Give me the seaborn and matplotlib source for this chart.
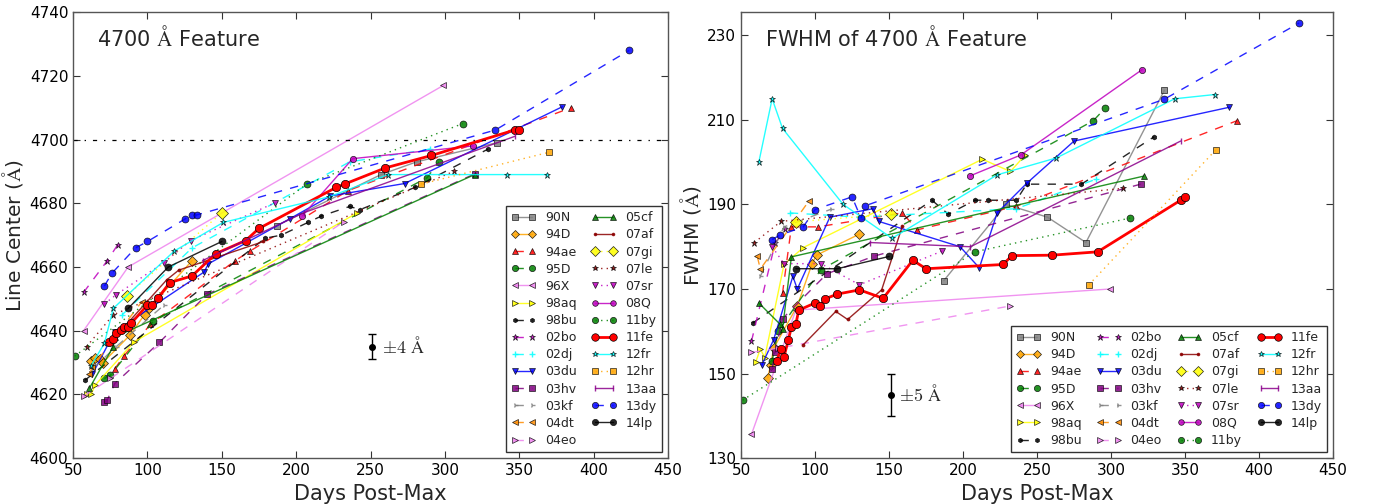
import matplotlib
matplotlib.use("Agg")
import matplotlib.pyplot as plt
import seaborn as sns

SN_NAMES = ["90N", "94D", "94ae", "95D", "96X", "98aq", "98bu", "02bo", "02dj",
            "03du", "03hv", "03kf", "04dt", "04eo", "05cf", "07af", "07gi", "07le",
            "07sr", "08Q", "11by", "11fe", "12fr", "12hr", "13aa", "13dy", "14lp"]

# ---- Line center of the 4700 A feature (left panel) ----
LC_DAYS = {
    "90N": [187, 257, 281, 335],
    "94D": [62, 65, 68, 70, 88, 98, 101, 130],
    "94ae": [78, 84, 102, 159, 169, 235, 385],
    "95D": [71, 75, 104, 288, 296],
    "96X": [57, 87, 299],
    "98aq": [59, 62, 65, 91, 241],
    "98bu": [58, 179, 190, 208, 217, 236, 243, 280, 329],
    "02bo": [57, 73, 80],
    "02dj": [83, 130, 236, 290],
    "03du": [63, 78, 138, 141, 196, 223, 273, 379],
    "03hv": [71, 73, 78, 108, 140, 320],
    "03kf": [63, 79, 111],
    "04dt": [61, 63, 96],
    "04eo": [57, 75, 232],
    "05cf": [61, 77, 78, 320],
    "07af": [84, 113, 121, 178],
    "07gi": [86, 150],
    "07le": [59, 77, 306],
    "07sr": [71, 79, 111, 129, 186],
    "08Q": [204, 238, 319],
    "11by": [51, 207, 312],
    "11fe": [74, 77, 79, 82, 84, 87, 89, 100, 103, 107, 115, 130, 146, 166, 175,
             227, 233, 260, 291, 347, 350],
    "12fr": [62, 71, 77, 118, 151, 222, 262, 342, 369],
    "12hr": [284, 370],
    "13aa": [137, 205, 347],
    "13dy": [71, 76, 92, 100, 125, 130, 133, 334, 424],
    "14lp": [87, 114, 150],
}
LC_VALS = {
    "90N": [4673, 4689, 4693, 4699],
    "94D": [4630.5, 4631.5, 4631, 4630, 4638.5, 4645, 4647, 4662],
    "94ae": [4628, 4632, 4642, 4662, 4665, 4684, 4710],
    "95D": [4625, 4626, 4643, 4688, 4693],
    "96X": [4640, 4660, 4717],
    "98aq": [4620, 4620, 4623, 4636.5, 4677],
    "98bu": [4624.5, 4669, 4670, 4674, 4676, 4679, 4678, 4685, 4697],
    "02bo": [4652, 4662, 4667],
    "02dj": [4645, 4666, 4693, 4697],
    "03du": [4626.4, 4639.7, 4658.4, 4661, 4675.2, 4682.3, 4686.2, 4710.3],
    "03hv": [4617.5, 4618.3, 4623.4, 4636.3, 4651.4, 4689.2],
    "03kf": [4628, 4635, 4648],
    "04dt": [4626.5, 4628.6, 4649],
    "04eo": [4619.4, 4625, 4674.2],
    "05cf": [4622, 4635, 4638, 4689],
    "07af": [4641, 4656, 4659, 4668],
    "07gi": [4651, 4677],
    "07le": [4635, 4645, 4690],
    "07sr": [4648.4, 4651.3, 4661.4, 4668.3, 4680.2],
    "08Q": [4676, 4694, 4698],
    "11by": [4632, 4686, 4705],
    "11fe": [4636.3, 4637.3, 4639.2, 4640.1, 4641.3, 4641.3, 4642.3, 4648.1, 4648.1,
             4650.2, 4655.1, 4657.2, 4664.2, 4668.3, 4672.1, 4685, 4686.1, 4691.1,
             4695, 4703, 4703],
    "12fr": [4629, 4636, 4647, 4665, 4674, 4682, 4689, 4689, 4689],
    "12hr": [4686, 4696],
    "13aa": [4662, 4677, 4701],
    "13dy": [4654, 4658, 4666, 4668, 4675, 4676.3, 4676.3, 4703, 4728],
    "14lp": [4647, 4660, 4668],
}

# ---- FWHM of the 4700 A feature (right panel) ----
FW_DAYS = {
    "90N": [187, 229, 257, 283, 336],
    "94D": [68, 70, 72, 88, 98, 101, 130],
    "94ae": [78, 84, 102, 159, 169, 236, 385],
    "95D": [71, 75, 104, 288, 296],
    "96X": [57, 87, 299],
    "98aq": [60, 63, 66, 79, 92, 213, 232, 242],
    "98bu": [58, 179, 190, 208, 217, 236, 243, 280, 329],
    "02bo": [57, 73, 80],
    "02dj": [83, 130, 236, 290],
    "03du": [64, 72, 85, 88, 110, 139, 143, 198, 211, 223, 243, 275, 380],
    "03hv": [71, 73, 78, 108, 140, 320],
    "03kf": [63, 79, 111],
    "04dt": [61, 63, 96],
    "04eo": [57, 75, 232],
    "05cf": [62, 76, 78, 84, 322],
    "07af": [92, 114, 122, 145, 159],
    "07gi": [87, 151],
    "07le": [59, 77, 308],
    "07sr": [71, 79, 104, 130, 186],
    "08Q": [205, 239, 321],
    "11by": [51, 208, 313],
    "11fe": [74, 77, 79, 82, 84, 87, 89, 100, 103, 107, 115, 130, 146, 166, 175,
             227, 233, 260, 291, 347, 350],
    "12fr": [62, 71, 78, 119, 152, 223, 263, 343, 370],
    "12hr": [285, 371],
    "13aa": [137, 205, 347],
    "13dy": [71, 76, 92, 100, 125, 131, 134, 336, 427],
    "14lp": [87, 115, 150],
}
FW_VALS = {
    "90N": [172, 190, 187, 181, 217],
    "94D": [149, 152, 156, 166, 176, 178, 183],
    "94ae": [169, 184.7, 184.7, 188, 184, 189.6, 209.8],
    "95D": [153, 160, 174.6, 209.8, 212.8],
    "96X": [135.6, 165, 170],
    "98aq": [152.8, 155.8, 153.8, 175.8, 179.8, 200.7, 197.8, 201.7],
    "98bu": [162, 191, 187.7, 191, 191, 191, 194.8, 194.8, 206],
    "02bo": [157.6, 180.8, 184.3],
    "02dj": [188, 187, 189, 196],
    "03du": [152, 158, 173, 170, 187, 189, 186, 180, 175, 188, 195, 205, 213],
    "03hv": [151, 155, 163, 173.6, 177.8, 194.8],
    "03kf": [173, 184.7, 188.9],
    "04dt": [177.7, 174.7, 190.9],
    "04eo": [155, 156, 166],
    "05cf": [166.7, 161.8, 160.6, 177.6, 196.7],
    "07af": [156.8, 164.7, 162.8, 169.8, 184.9],
    "07gi": [185.9, 187.7],
    "07le": [181, 186, 193.8],
    "07sr": [180, 176, 176, 171, 179],
    "08Q": [196.8, 201.7, 221.9],
    "11by": [143.7, 178.8, 186.8],
    "11fe": [153, 155.7, 154, 158, 161, 161.7, 165, 166.7, 165.9, 167.7, 168.8,
             169.8, 167.8, 176.8, 174.8, 175.8, 177.9, 178, 178.8, 191, 191.8],
    "12fr": [200, 215, 208, 190, 182, 197, 201, 215, 216],
    "12hr": [171, 203],
    "13aa": [181, 180, 205],
    "13dy": [181.7, 182.7, 184.7, 188.8, 191.8, 186.8, 189.7, 214.9, 232.9],
    "14lp": [174.8, 174.8, 177.7],
}

# styles: color, marker, linestyle, markersize, linewidth
STYLE = {
    "90N": ("gray", "s", "-", 5, 1.0),
    "94D": ("orange", "D", "-", 5, 1.0),
    "94ae": ("red", "^", "--", 5, 1.0),
    "95D": ("green", "o", "--", 5, 1.0),
    "96X": ("violet", "<", "-", 5, 1.0),
    "98aq": ("yellow", ">", "-", 5, 1.0),
    "98bu": ("black", "h", "--", 3.5, 1.0),
    "02bo": ("m", "*", "--", 5, 1.0),
    "02dj": ("cyan", "+", "--", 5, 1.0),
    "03du": ("blue", "v", "-", 5, 1.0),
    "03hv": ("purple", "s", "--", 5, 1.0),
    "03kf": ("gray", "4", "--", 4, 1.0),
    "04dt": ("darkorange", "<", "--", 5, 1.0),
    "04eo": ("violet", ">", "--", 5, 1.0),
    "05cf": ("green", "^", "-", 5, 1.0),
    "07af": ("darkred", ".", "-", 3.5, 1.0),
    "07gi": ("yellow", "D", ":", 6, 1.0),
    "07le": ("darkred", "*", ":", 4.5, 1.0),
    "07sr": ("m", "v", ":", 5, 1.0),
    "08Q": ("m", "o", "-", 4.5, 1.0),
    "11by": ("green", "o", ":", 5, 1.0),
    "11fe": ("red", "o", "-", 6, 2.0),
    "12fr": ("cyan", "*", "-", 4.5, 1.0),
    "12hr": ("orange", "s", ":", 5, 1.0),
    "13aa": ("darkmagenta", "|", "-", 5, 1.0),
    "13dy": ("blue", "o", "--", 5, 1.0),
    "14lp": ("black", "o", "-", 5, 1.0),
}

sns.set_style("ticks")
plt.rcParams.update({
    "font.family": ["DejaVu Sans"],
    "mathtext.fontset": "cm",
    "xtick.direction": "in", "ytick.direction": "in",
    "xtick.top": True, "ytick.right": True,
    "xtick.major.size": 5, "ytick.major.size": 5,
    "xtick.labelsize": 11, "ytick.labelsize": 11,
    "xtick.color": "#333333", "ytick.color": "#333333",
    "xtick.labelcolor": "black", "ytick.labelcolor": "black",
    "axes.edgecolor": "#555555", "axes.linewidth": 1.0,
    "lines.dashed_pattern": [6, 6], "lines.dotted_pattern": [1, 3],
    "lines.dashdot_pattern": [3, 5, 1, 5], "lines.scale_dashes": False,
})

AA = r"$\mathrm{\AA}$"

fig = plt.figure(figsize=(13.8, 5.04), dpi=100)
ax1 = fig.add_axes([0.053, 0.091, 0.431, 0.885])
ax2 = fig.add_axes([0.537, 0.091, 0.429, 0.885])


def draw(ax, days, vals):
    for name in SN_NAMES:
        color, marker, ls, ms, lw = STYLE[name]
        mec = color if marker in ("+", "|", "4", ".") else "k"
        sns.lineplot(x=days[name], y=vals[name], ax=ax, color=color, marker=marker,
                     linestyle=ls, markersize=ms, linewidth=lw, markeredgecolor=mec,
                     markeredgewidth=0.5 if mec == "k" else 1.0, label=name,
                     estimator=None, sort=False, alpha=0.85 if name != "11fe" else 1.0)


def legend(ax, ncol):
    ax.legend(loc="lower right", ncol=ncol, fontsize=9, numpoints=2, fancybox=False,
              edgecolor="#333333", framealpha=1, labelspacing=0.33, handlelength=2.0,
              handletextpad=0.7, columnspacing=1.2, borderaxespad=0.5, borderpad=0.4,
              markerscale=0.9)


draw(ax1, LC_DAYS, LC_VALS)
draw(ax2, FW_DAYS, FW_VALS)

# left panel decorations
ax1.axhline(4700, color="black", linestyle="-.", linewidth=0.9)
ax1.errorbar([251], [4635], yerr=[4], fmt="o", color="black", ms=4, capsize=3, elinewidth=1)
ax1.text(258, 4635, r"$\pm4\ \mathrm{\AA}$", fontsize=13, va="center", ha="left")
ax1.text(0.04, 0.944, "4700 " + AA + " Feature", transform=ax1.transAxes, fontsize=15,
         va="center", ha="left")
ax1.set_xlim(50, 450)
ax1.set_ylim(4600, 4740)
ax1.set_xticks(range(50, 451, 50))
ax1.set_yticks(range(4600, 4741, 20))
ax1.set_xlabel("Days Post-Max", fontsize=15)
ax1.set_ylabel("Line Center (" + AA + ")", fontsize=14.5, labelpad=3)
legend(ax1, 2)

# right panel decorations
ax2.errorbar([151], [145], yerr=[5], fmt="o", color="black", ms=4, capsize=3, elinewidth=1)
ax2.text(157, 145, r"$\pm5\ \mathrm{\AA}$", fontsize=13, va="center", ha="left")
ax2.text(0.04, 0.944, "FWHM of 4700 " + AA + " Feature", transform=ax2.transAxes,
         fontsize=15, va="center", ha="left")
ax2.set_xlim(50, 450)
ax2.set_ylim(130, 235.5)
ax2.set_xticks(range(50, 451, 50))
ax2.set_yticks(range(130, 231, 20))
ax2.set_xlabel("Days Post-Max", fontsize=15)
ax2.set_ylabel("FWHM (" + AA + ")", fontsize=14.5, labelpad=3)
legend(ax2, 4)

fig.savefig("out.png", dpi=100)
